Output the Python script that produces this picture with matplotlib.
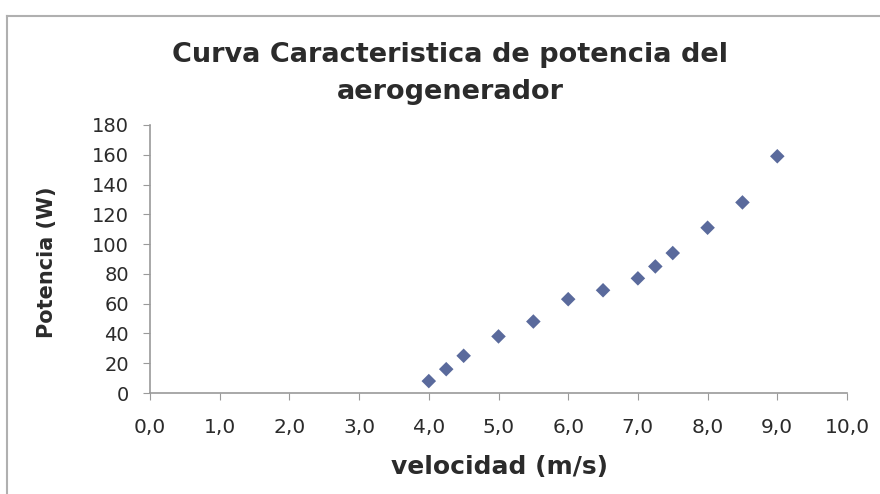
import matplotlib
matplotlib.use("Agg")
import matplotlib.pyplot as plt
from matplotlib.lines import Line2D
from matplotlib.ticker import FuncFormatter

velocidad = [4.0, 4.25, 4.5, 5.0, 5.5, 6.0, 6.5, 7.0, 7.25, 7.5, 8.0, 8.5, 9.0]
potencia = [8, 16, 25, 38, 48, 63, 69, 77, 85, 94, 111, 128, 159]
x_ticks = [0, 1, 2, 3, 4, 5, 6, 7, 8, 9, 10]
y_ticks = [0, 20, 40, 60, 80, 100, 120, 140, 160, 180]

title = "Curva Caracteristica de potencia del\naerogenerador"
xlabel = "velocidad (m/s)"
ylabel = "Potencia (W)"

plt.rcParams['font.family'] = ['DejaVu Sans']

fig = plt.figure(figsize=(8.8, 4.94), dpi=100)
ax = fig.add_axes([150/880, 1-393/494, (847-150)/880, (393-125)/494])

ax.scatter(velocidad, potencia, marker='D', s=55, color='#5A6A9C', edgecolors='none', zorder=3)

ax.set_xlim(0, 10)
ax.set_ylim(0, 180)
ax.set_xticks(x_ticks)
ax.set_yticks(y_ticks)
ax.xaxis.set_major_formatter(FuncFormatter(lambda v, p: f"{v:.1f}".replace('.', ',')))

for s in ['top', 'right']:
    ax.spines[s].set_visible(False)
for s in ['left', 'bottom']:
    ax.spines[s].set_color('#9a9a9a')
    ax.spines[s].set_linewidth(1.2)

ax.tick_params(axis='y', direction='out', length=5, color='#9a9a9a', labelsize=14, labelcolor='#2b2b2b', pad=10)
ax.tick_params(axis='x', direction='out', length=5, color='#9a9a9a', labelsize=14.5, labelcolor='#2b2b2b', pad=13)

t1, t2 = title.split('\n')
fig.text(450/880, 1-62/494, t1, ha='center', va='baseline', fontsize=19.5, fontweight='bold', color='#2b2b2b')
fig.text(450/880, 1-99/494, t2, ha='center', va='baseline', fontsize=19.5, fontweight='bold', color='#2b2b2b')
fig.text(499/880, 1-467/494, xlabel, ha='center', va='center', fontsize=18, fontweight='bold', color='#2b2b2b')
fig.text(47/880, 1-262/494, ylabel, ha='center', va='center', fontsize=15, fontweight='bold', rotation=90, color='#2b2b2b')

# outer chart border (top and left visible)
fig.add_artist(Line2D([7/880, 1], [1-16/494, 1-16/494], transform=fig.transFigure, color='#b0b0b0', lw=1.5))
fig.add_artist(Line2D([7/880, 7/880], [0, 1-16/494], transform=fig.transFigure, color='#b0b0b0', lw=1.5))

fig.savefig('out.png', dpi=100)
